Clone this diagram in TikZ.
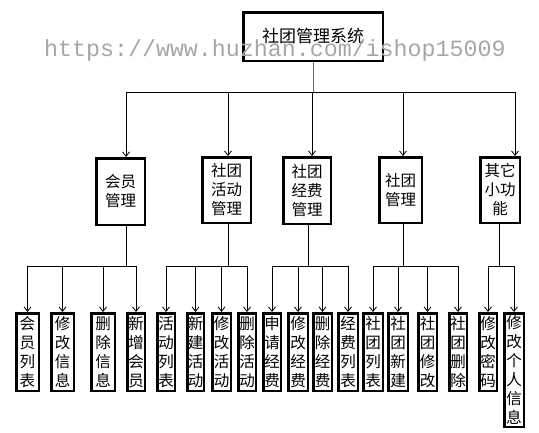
\documentclass[tikz,border=0pt]{standalone}
\usepackage{fontspec}
\newfontfamily\cjk{Noto Sans CJK SC}
\newfontfamily\wmfont{Liberation Mono}
\usetikzlibrary{arrows.meta}
\definecolor{stemblue}{RGB}{68,114,196}
\begin{document}
\begin{tikzpicture}[x=1pt,y=-1pt,
  box/.style={draw, line width=2.5pt, inner sep=0pt, align=center, font=\cjk\fontsize{15.5}{19}\selectfont},
  lthree/.style={box, minimum height=77.5pt},
  conn/.style={line width=0.8pt},
  arr/.style={conn, -{Straight Barb[length=4.5pt,width=7pt]}},
]
\useasboundingbox (0,0) rectangle (539,432);
% root
\node[box, font=\cjk\fontsize{17}{20}\selectfont, minimum width=139.5pt, minimum height=48.5pt] (root) at (313,36.5) {社团管理系统};
% level 2
\node[box, minimum width=48.5pt, minimum height=66.5pt] (n1) at (120.5,191.5) {会员\\管理};
\node[box, minimum width=48.5pt, minimum height=65.5pt] (n2) at (226.5,190) {社团\\活动\\管理};
\node[box, minimum width=47.5pt, minimum height=66.5pt] (n3) at (307,190.5) {社团\\经费\\管理};
\node[box, minimum width=42.5pt, minimum height=65.5pt] (n4) at (400.5,190) {社团\\管理};
\node[box, minimum width=39.5pt, minimum height=65.5pt] (n5) at (500,190) {其它\\小功\\能};
% level 3
\node[lthree, minimum width=22.5pt] (a1) at (27.5,352) {会\\员\\列\\表};
\node[lthree, minimum width=22.5pt] (a2) at (62.5,352) {修\\改\\信\\息};
\node[lthree, minimum width=23.5pt] (a3) at (103,352) {删\\除\\信\\息};
\node[lthree, minimum width=17.5pt] (a4) at (136,352) {新\\增\\会\\员};
\node[lthree, minimum width=17.5pt] (b1) at (166,352) {活\\动\\列\\表};
\node[lthree, minimum width=16.5pt] (b2) at (195.5,352) {新\\建\\活\\动};
\node[lthree, minimum width=18.5pt] (b3) at (221.5,352) {修\\改\\活\\动};
\node[lthree, minimum width=17.5pt] (b4) at (247,352) {删\\除\\活\\动};
\node[lthree, minimum width=17.5pt] (c1) at (272,352) {申\\请\\经\\费};
\node[lthree, minimum width=19.5pt] (c2) at (298,352) {修\\改\\经\\费};
\node[lthree, minimum width=18.5pt] (c3) at (322.5,352) {删\\除\\经\\费};
\node[lthree, minimum width=19.5pt] (c4) at (348,352) {经\\费\\列\\表};
\node[lthree, minimum width=19.5pt] (d1) at (373,352) {社\\团\\列\\表};
\node[lthree, minimum width=19.5pt] (d2) at (398,352) {社\\团\\新\\建};
\node[lthree, minimum width=18.5pt] (d3) at (427.5,352) {社\\团\\修\\改};
\node[lthree, minimum width=17.5pt] (d4) at (458,352) {社\\团\\删\\除};
\node[lthree, minimum width=17.5pt] (e1) at (488,352) {修\\改\\密\\码};
\node[box, minimum width=19.5pt, minimum height=113.5pt] (e2) at (514,370) {修\\改\\个\\人\\信\\息};
% top bus
\coordinate (t1) at (126,92);
\coordinate (t2) at (228,92);
\coordinate (t3) at (312,92);
\coordinate (t4) at (403,92);
\coordinate (t5) at (515,92);
\draw[conn] (t1) -- (t5);
\draw[conn, stemblue] (root.south) -- (root.south |- t3);
\draw[arr] (t1) -- (t1 |- n1.north);
\draw[arr] (t2) -- (t2 |- n2.north);
\draw[arr] (t3) -- (t3 |- n3.north);
\draw[arr] (t4) -- (t4 |- n4.north);
\draw[arr] (t5) -- (t5 |- n5.north);
% sub buses
\coordinate (s1) at (126,266);
\coordinate (s2) at (228,266);
\coordinate (s3) at (308,266);
\coordinate (s4) at (403,266);
\coordinate (s5) at (499,266);
\draw[conn] (s1 |- n1.south) -- (s1);
\draw[conn] (s2 |- n2.south) -- (s2);
\draw[conn] (s3 |- n3.south) -- (s3);
\draw[conn] (s4 |- n4.south) -- (s4);
\draw[conn] (s5 |- n5.south) -- (s5);
\draw[conn] (a1.north |- s1) -- (a4.north |- s1);
\draw[conn] (b1.north |- s2) -- (b4.north |- s2);
\draw[conn] (c1.north |- s3) -- (c4.north |- s3);
\draw[conn] (d1.north |- s4) -- (d4.north |- s4);
\draw[conn] (e1.north |- s5) -- (e2.north |- s5);
\foreach \n/\s in {a1/s1,a2/s1,a3/s1,a4/s1,b1/s2,b2/s2,b3/s2,b4/s2,c1/s3,c2/s3,c3/s3,c4/s3,d1/s4,d2/s4,d3/s4,d4/s4,e1/s5,e2/s5}
  \draw[arr] (\n.north |- \s) -- (\n.north);
% watermark
\node[anchor=base west, inner sep=0pt, font=\wmfont\fontsize{23.3}{25}\selectfont, text=black!35] (wm) at (44,56) {https://www.huzhan.com/ishop15009};
\end{tikzpicture}
\end{document}
